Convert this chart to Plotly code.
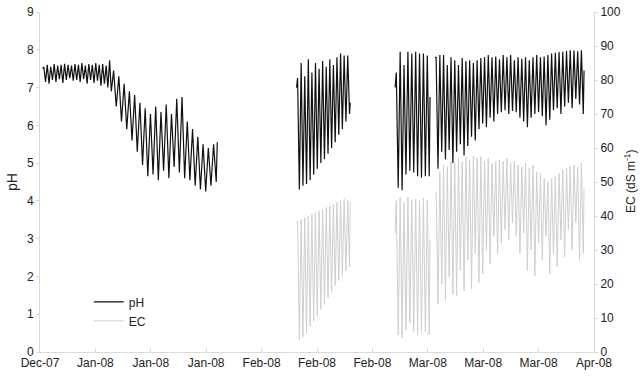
import datetime as dt
import plotly.graph_objects as go

BASE = dt.datetime(2007, 12, 28)

# ---- pH record: segments (start day, end day, start value, end value), per-cycle peaks and troughs ----
ph_seg1a_days = (0.5, 13.0)
ph_seg1a_edge = (7.5, None)
ph_seg1a_peaks = [7.55, 7.6, 7.55, 7.62, 7.58, 7.6, 7.63, 7.6, 7.58, 7.62,
                  7.6, 7.65, 7.58, 7.62, 7.6, 7.65, 7.6, 7.62, 7.58, 7.72]
ph_seg1a_troughs = [7.15, 7.1, 7.2, 7.15, 7.22, 7.12, 7.2, 7.25, 7.18, 7.2,
                    7.15, 7.22, 7.1, 7.2, 7.12, 7.18, 7.05, 7.1, 7.0, 6.9]

ph_seg1b_days = (13.0, 32.0)
ph_seg1b_edge = (None, 5.55)
ph_seg1b_peaks = [7.45, 7.3, 7.1, 6.9, 6.8, 6.6, 6.45, 6.3, 6.5, 6.35,
                  6.55, 6.3, 6.7, 6.75, 6.1, 5.9, 5.7, 5.5, 5.4, 5.5]
ph_seg1b_troughs = [6.5, 6.1, 5.9, 5.6, 5.3, 4.95, 4.65, 4.7, 4.55, 4.8,
                    4.6, 4.9, 4.75, 4.6, 4.55, 4.4, 4.3, 4.25, 4.4, 4.5]

ph_seg2_days = (46.3, 56.0)
ph_seg2_edge = (7.0, 6.6)
ph_seg2_peaks = [7.25, 7.65, 7.3, 7.75, 7.4, 7.65, 7.5, 7.7, 7.55, 7.75,
                 7.6, 7.8, 7.9, 7.85, 7.85]
ph_seg2_troughs = [4.3, 4.4, 4.45, 4.55, 4.7, 4.85, 5.0, 5.1, 5.25, 5.4,
                   5.55, 5.75, 5.9, 6.1, 6.3]

ph_seg3_days = (64.1, 70.4)
ph_seg3_edge = (7.0, 6.75)
ph_seg3_peaks = [7.4, 7.95, 7.6, 7.95, 7.9, 7.95, 7.9, 7.9, 7.85]
ph_seg3_troughs = [4.35, 4.28, 4.7, 4.8, 4.75, 4.65, 4.62, 4.65, 4.65]

ph_seg4_days = (71.3, 98.2)
ph_seg4_edge = (7.8, 7.45)
ph_seg4_peaks = [7.8, 7.86, 7.86, 7.6, 7.8, 7.72, 7.6, 7.78, 7.7, 7.72,
                 7.65, 7.72, 7.78, 7.8, 7.86, 7.8, 7.82, 7.75, 7.86, 7.8,
                 7.86, 7.72, 7.8, 7.76, 7.8, 7.72, 7.8, 7.86, 7.8, 7.82,
                 7.86, 7.9, 7.92, 7.94, 7.95, 7.97, 7.99, 7.98, 7.96, 7.99]
ph_seg4_troughs = [4.85, 5.3, 5.1, 5.35, 5.0, 5.3, 5.5, 5.2, 5.45, 5.7,
                   5.6, 5.9, 6.05, 5.95, 6.2, 6.1, 6.3, 6.35, 6.4, 6.3,
                   6.38, 6.35, 6.2, 6.1, 5.95, 6.2, 6.3, 6.35, 6.25, 6.0,
                   6.15, 6.4, 6.45, 6.3, 6.5, 6.6, 6.45, 6.7, 6.55, 6.3]

# ---- EC record (dS m-1) ----
ec_seg2_days = (46.3, 56.0)
ec_seg2_edge = (38.0, 44.0)
ec_seg2_peaks = [38.5, 39, 39.5, 40, 40.5, 41, 41.5, 42, 42.5, 43,
                 43.5, 44, 44.5, 45, 44.5]
ec_seg2_troughs = [3.5, 4.5, 5.5, 7.5, 9, 10.5, 12.5, 14, 16, 17.5,
                   19.5, 21, 22.5, 24, 25]

ec_seg3_days = (64.1, 70.4)
ec_seg3_edge = (35.0, 33.0)
ec_seg3_peaks = [44.5, 45.5, 44, 45.5, 44.8, 45, 44.5, 45.2, 44.8]
ec_seg3_troughs = [5, 4.2, 6.5, 8.5, 6, 5, 5.5, 6, 5]

ec_seg4_days = (71.3, 98.2)
ec_seg4_edge = (47.0, 48.0)
ec_seg4_peaks = [47, 53, 55, 54.5, 56, 55.5, 57, 56, 57.5, 56.5,
                 57.5, 57, 57.5, 56, 57, 55.5, 56, 56.5, 56, 57,
                 55.5, 56, 55, 54.5, 55.5, 54, 55, 53, 52.5, 51,
                 50, 51, 51.5, 52.5, 53.5, 54, 54.5, 55, 54.5, 55.5]
ec_seg4_troughs = [14, 20, 15, 22, 17, 16.5, 24, 18, 27, 18.5,
                   29, 20.5, 23, 30, 26, 34, 29, 32, 36, 33,
                   38, 34, 29, 35, 24, 30, 22.5, 32, 27, 34,
                   23, 29, 25, 33, 28, 36, 30, 38, 27, 29]


def build(segments):
    xs, ys = [], []
    for days, edge, peaks, troughs in segments:
        t0, t1 = days
        step = (t1 - t0) / len(peaks)
        if edge[0] is not None:
            xs.append(BASE + dt.timedelta(days=t0)); ys.append(edge[0])
        for i, (p, q) in enumerate(zip(peaks, troughs)):
            xs.append(BASE + dt.timedelta(days=t0 + (i + 0.3) * step)); ys.append(p)
            xs.append(BASE + dt.timedelta(days=t0 + (i + 0.8) * step)); ys.append(q)
        if edge[1] is not None:
            xs.append(BASE + dt.timedelta(days=t1)); ys.append(edge[1])
            xs.append(BASE + dt.timedelta(days=t1 + 0.01)); ys.append(None)
    return xs, ys


ph_x, ph_y = build([
    (ph_seg1a_days, ph_seg1a_edge, ph_seg1a_peaks, ph_seg1a_troughs),
    (ph_seg1b_days, ph_seg1b_edge, ph_seg1b_peaks, ph_seg1b_troughs),
    (ph_seg2_days, ph_seg2_edge, ph_seg2_peaks, ph_seg2_troughs),
    (ph_seg3_days, ph_seg3_edge, ph_seg3_peaks, ph_seg3_troughs),
    (ph_seg4_days, ph_seg4_edge, ph_seg4_peaks, ph_seg4_troughs),
])
ec_x, ec_y = build([
    (ec_seg2_days, ec_seg2_edge, ec_seg2_peaks, ec_seg2_troughs),
    (ec_seg3_days, ec_seg3_edge, ec_seg3_peaks, ec_seg3_troughs),
    (ec_seg4_days, ec_seg4_edge, ec_seg4_peaks, ec_seg4_troughs),
])

FONT = "Liberation Sans, Arial, sans-serif"
AXC = "#d9d9d9"

fig = go.Figure()
fig.add_trace(go.Scatter(x=ph_x, y=ph_y, name="pH", mode="lines",
                         line=dict(color="#111111", width=1.2), connectgaps=False))
fig.add_trace(go.Scatter(x=ec_x, y=ec_y, name="EC", mode="lines", yaxis="y2",
                         line=dict(color="#cfcfcf", width=1), connectgaps=False))

fig.update_layout(
    width=640, height=387,
    margin=dict(l=40, r=46, t=12, b=35, autoexpand=False),
    paper_bgcolor="white", plot_bgcolor="white",
    font=dict(family=FONT, size=12, color="#222222"),
    showlegend=True,
    legend=dict(x=0.088, y=0.19, xanchor="left", yanchor="top",
                bgcolor="rgba(0,0,0,0)", font=dict(size=12),
                itemwidth=30, tracegroupgap=0),
    xaxis=dict(type="date", automargin=False,
               range=[BASE, BASE + dt.timedelta(days=100)],
               tick0=BASE, dtick=10 * 86400000, tickformat="%b-%y",
               showgrid=False, zeroline=False,
               showline=True, linecolor=AXC, linewidth=1,
               ticks="inside", ticklen=4, tickcolor=AXC),
    yaxis=dict(title=dict(text="pH", standoff=6), automargin=False,
               range=[0, 9], dtick=1, showgrid=False, zeroline=False,
               showline=True, linecolor=AXC, linewidth=1,
               ticks="outside", ticklen=3, tickcolor=AXC),
    yaxis2=dict(automargin=False,
                range=[0, 100], dtick=10, overlaying="y", side="right",
                showgrid=False, zeroline=False,
                showline=True, linecolor=AXC, linewidth=1,
                ticks="outside", ticklen=3, tickcolor=AXC),
    annotations=[dict(text="EC (dS m<sup>-1</sup>)", xref="paper", yref="paper",
                      x=1, y=0.5, xshift=36, textangle=-90, showarrow=False,
                      font=dict(size=12, color="#222222"),
                      xanchor="center", yanchor="middle")],
)

fig.write_html("out.html", config={"displayModeBar": False},
               post_script="document.body.style.margin='0';document.body.style.padding='0';")
